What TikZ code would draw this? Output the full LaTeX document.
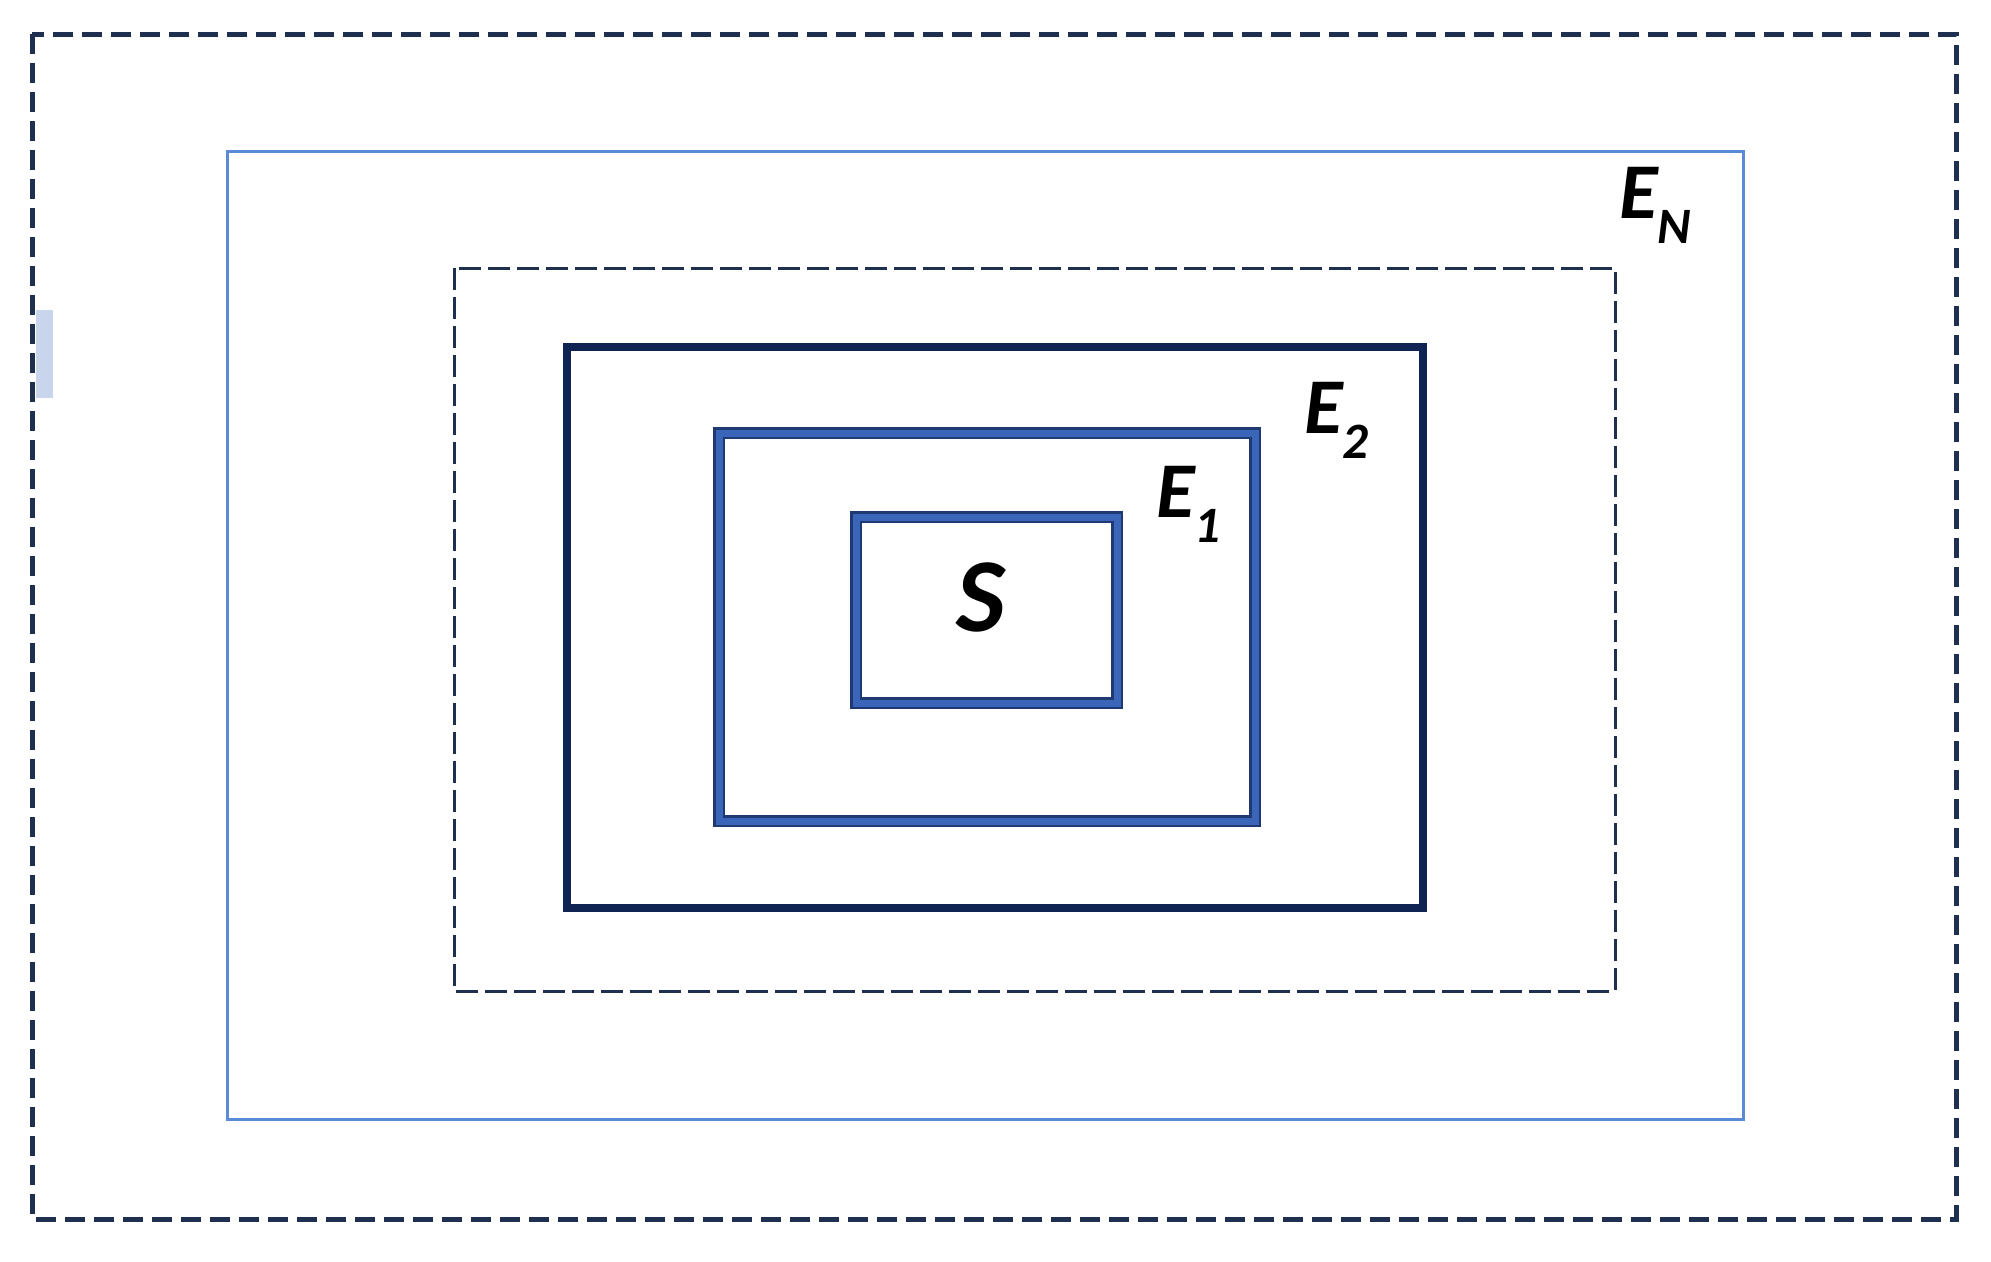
\documentclass[tikz,border=0pt]{standalone}
\usepackage{fontspec}
\setmainfont{Carlito}
\definecolor{navy}{HTML}{1E2F50}
\definecolor{deepnavy}{HTML}{0F2452}
\definecolor{edgeblue}{HTML}{1F3A72}
\definecolor{midblue}{HTML}{3A65B8}
\definecolor{lightblue}{HTML}{5B8BD6}
\definecolor{tabblue}{HTML}{C8D5EC}
\tikzset{
  outerdash/.style={draw=navy, line width=5pt, dash pattern=on 20pt off 9pt},
  innerdash/.style={draw=navy, line width=3pt, dash pattern=on 22pt off 7pt},
  thinblue/.style={draw=lightblue, line width=3pt},
  thickbox/.style={draw=deepnavy, line width=8pt},
  dblout/.style={draw=edgeblue, line width=12pt},
  dblin/.style={draw=midblue, line width=7pt},
  lab/.style={inner sep=0pt, font=\fontsize{79}{80}\selectfont\bfseries\itshape},
  biglab/.style={inner sep=0pt, font=\fontsize{105}{106}\selectfont\bfseries\itshape}
}
\newcommand{\lowsub}[1]{\raisebox{-25pt}{\fontsize{51}{52}\selectfont #1}}
\begin{document}
\begin{tikzpicture}[x=1pt,y=-1pt]
\useasboundingbox (0,0) rectangle (1991,1261);
\fill[white] (0,0) rectangle (1991,1261);
% small tab at left
\fill[tabblue] (36,310) rectangle (53,398);
% E_N outer dashed frame
\draw[outerdash] (32,34) rectangle (1956,1219);
% light blue frame
\draw[thinblue] (227,151) rectangle (1743,1119);
% inner dashed frame
\draw[innerdash] (454,268) rectangle (1615,991);
% E2 thick frame
\draw[thickbox] (567,347) rectangle (1423,908);
% E1 double frame
\draw[dblout] (719,433) rectangle (1255,821);
\draw[dblin] (719,433) rectangle (1255,821);
% S double frame
\draw[dblout] (856,517) rectangle (1117,703);
\draw[dblin] (856,517) rectangle (1117,703);
% labels
\node[biglab, anchor=base] (s) at (981,631) {S};
\node[lab, anchor=base west] (e1) at (1156,517) {E\lowsub{1}};
\node[lab, anchor=base west] (e2) at (1304,433) {E\lowsub{2}};
\node[lab, anchor=base west] (en) at (1619,218) {E\lowsub{N}};
\end{tikzpicture}
\end{document}
